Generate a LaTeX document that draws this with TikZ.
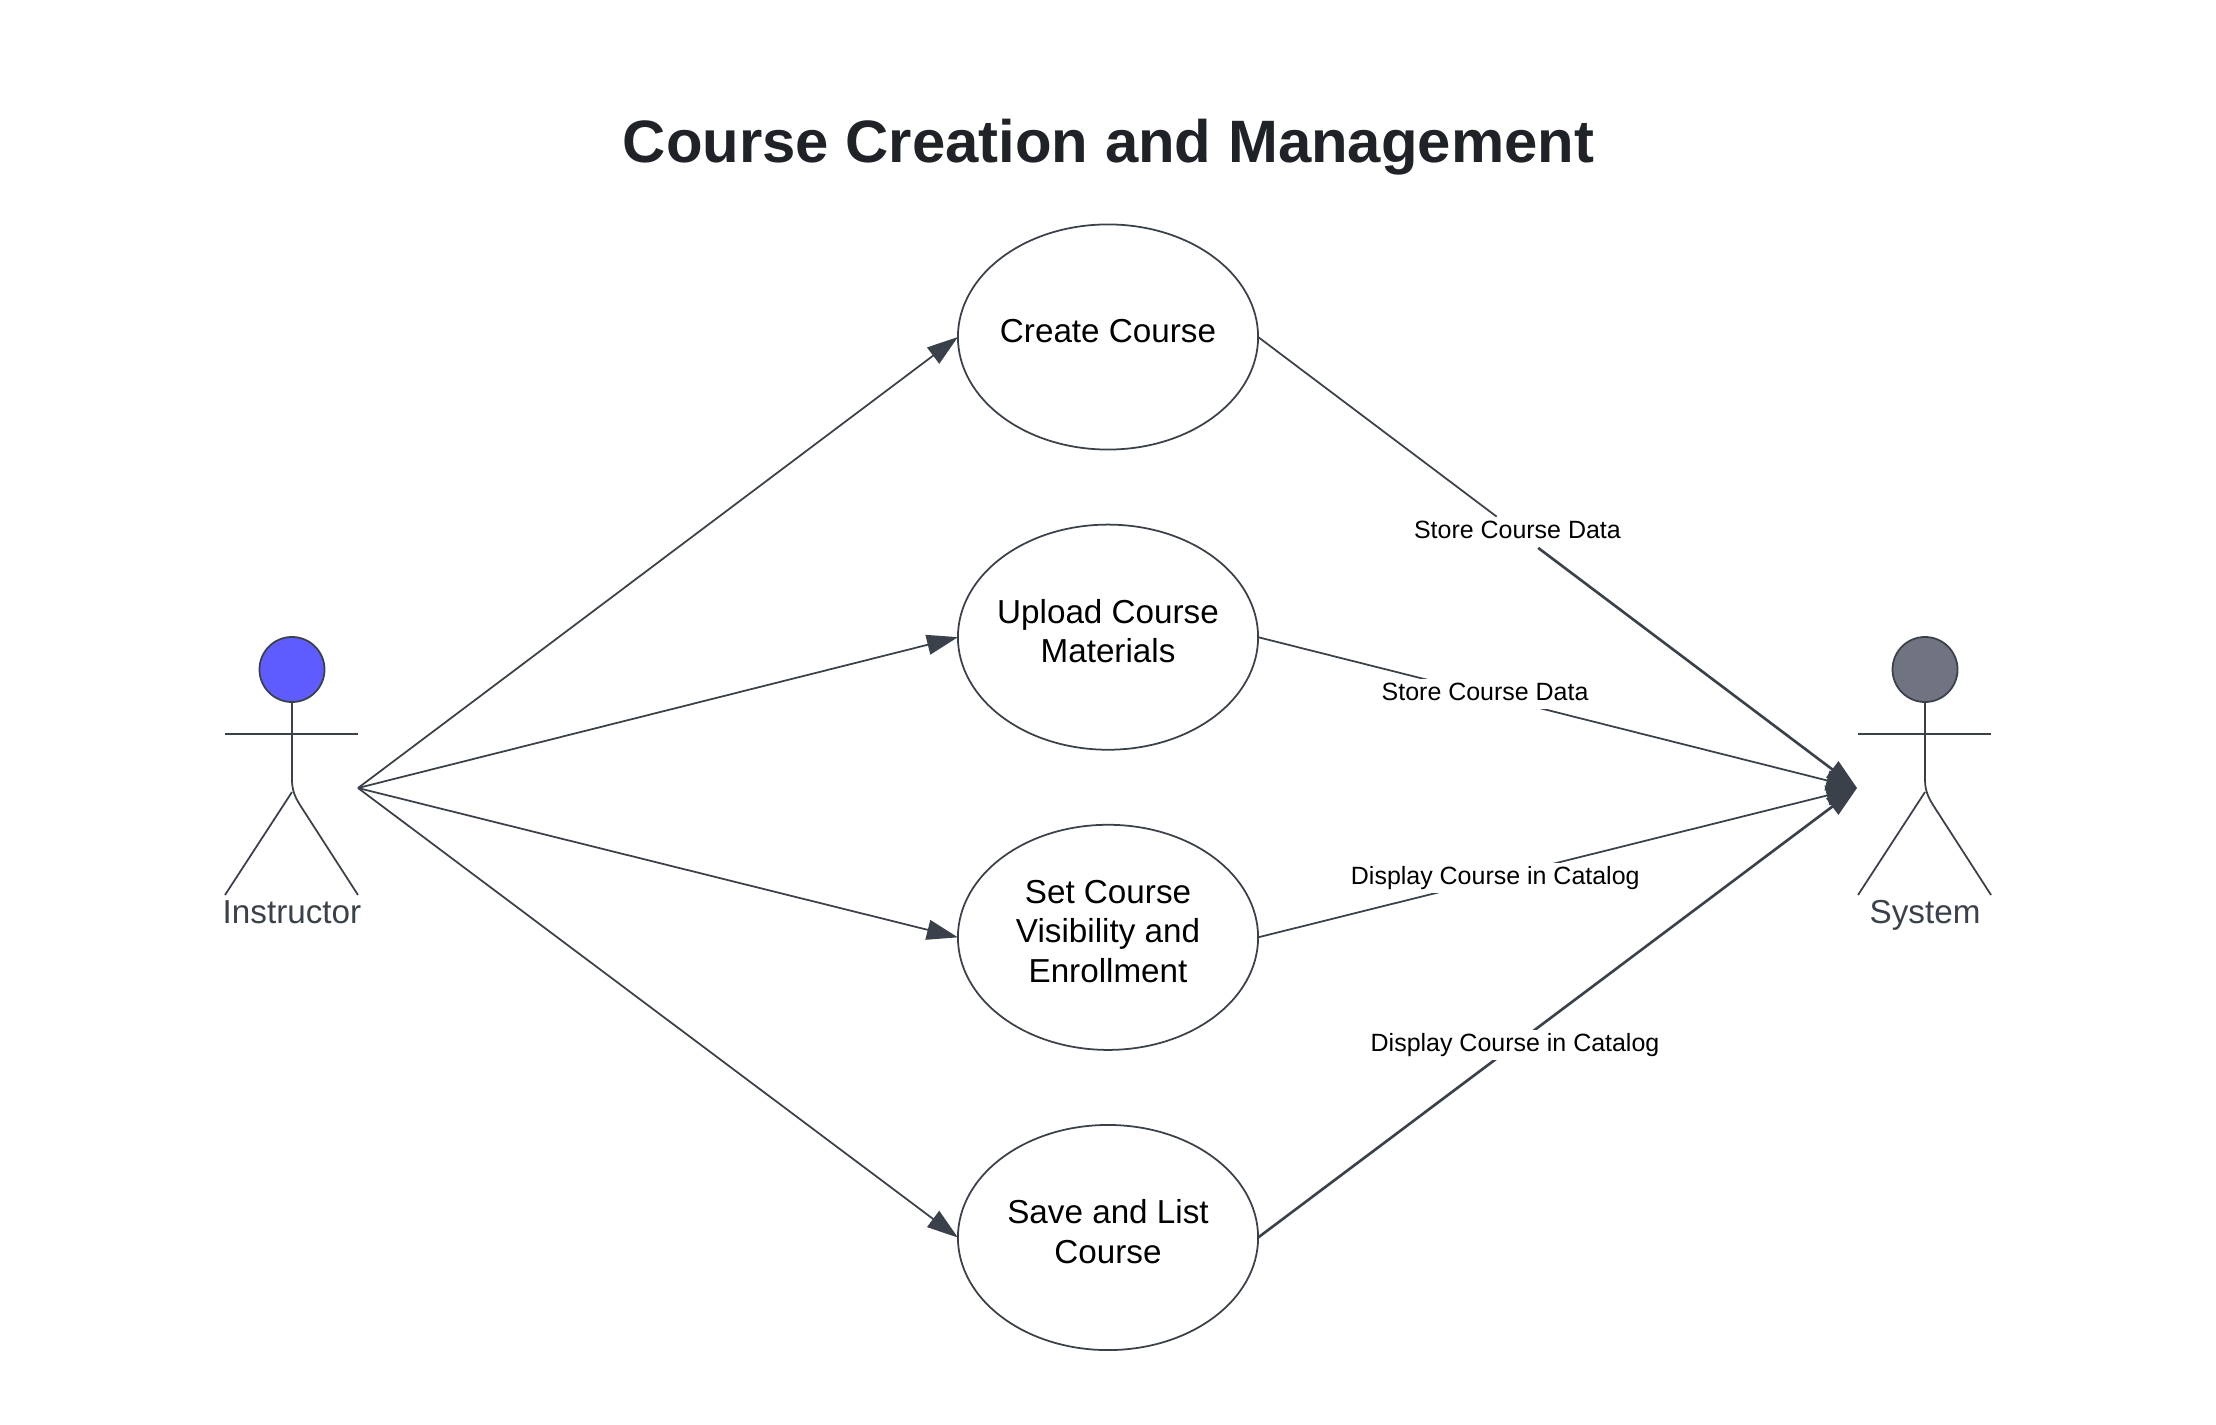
\documentclass[tikz,border=0pt]{standalone}
\usepackage{fontspec}
\setmainfont{Liberation Sans}
\usetikzlibrary{shapes.geometric, arrows.meta, positioning, calc}
\definecolor{inkline}{HTML}{3A414A}
\definecolor{titleink}{HTML}{1F2328}
\definecolor{headblue}{HTML}{5F5CFF}
\definecolor{headgray}{HTML}{6F7480}

\begin{document}
\begin{tikzpicture}[
    x=0.01cm, y=-0.01cm,
    usecase/.style={
      ellipse, draw=inkline, line width=0.5pt,
      minimum width=3.0cm, minimum height=2.25cm, inner sep=-3pt, outer sep=0pt,
      align=center, font=\fontsize{9.45}{11.2}\selectfont,
      execute at end node={\rule[-3.5pt]{0pt}{0pt}}
    },
    head/.style={circle, draw=inkline, line width=0.5pt, minimum size=0.65cm, inner sep=0pt, outer sep=0pt},
    limb/.style={draw=inkline, line width=0.5pt},
    actorname/.style={anchor=base, text=inkline, font=\fontsize{9.45}{11.2}\selectfont},
    arr/.style={-{Triangle[length=3.1mm, width=2mm]}, draw=inkline, line width=0.5pt, fill=inkline},
    plain/.style={draw=inkline, line width=0.5pt},
    heavy/.style={line width=0.75pt},
    edgelabel/.style={fill=white, inner xsep=1pt, inner ysep=0.65pt, text height=5.4pt, text depth=1.8pt,
      font=\fontsize{7.1}{8.5}\selectfont},
    node distance=0.75cm
  ]
  \useasboundingbox (0,0) rectangle (2216,1425);

  \node[font=\bfseries\fontsize{17.02}{20}\selectfont, text=titleink] (title) at (1108.5,147)
        {Course Creation and Management};

  \node[usecase] (create) at (1108,337) {Create Course};
  \node[usecase, below=of create] (upload) {Upload Course\\Materials};
  \node[usecase, below=of upload] (visible) {Set Course\\Visibility and\\Enrollment};
  \node[usecase, below=of visible] (save) {Save and List\\Course};

  % instructor
  \node[head, fill=headblue] (insthead) at (292,669.5) {};
  \coordinate (instarml) at (225,734);
  \coordinate (instarmr) at (358,734);
  \coordinate (instcrotch) at (292,792);
  \coordinate (instfootl) at (225,895);
  \coordinate (instfootr) at (358,895);
  \coordinate (instport) at (358,788);
  \node[actorname] (instname) at (292,923) {Instructor};
  \draw[limb] (instarml) -- (instarmr);
  \draw[limb] (insthead) -- (292,780) .. controls (292,790) and (295,797) .. (300,805) -- (instfootr);
  \draw[limb] (instcrotch) -- (instfootl);

  % system
  \node[head, fill=headgray] (syshead) at (1925,669.5) {};
  \coordinate (sysarml) at (1858,734);
  \coordinate (sysarmr) at (1991,734);
  \coordinate (syscrotch) at (1925,792);
  \coordinate (sysfootl) at (1858,895);
  \coordinate (sysfootr) at (1991,895);
  \coordinate (sysport) at (1857,788);
  \node[actorname] (sysname) at (1925,923) {System};
  \draw[limb] (sysarml) -- (sysarmr);
  \draw[limb] (syshead) -- (1925,780) .. controls (1925,790) and (1928,797) .. (1933,805) -- (sysfootr);
  \draw[limb] (syscrotch) -- (sysfootl);

  \draw[arr] (instport) -- (create.west);
  \draw[arr] (instport) -- (upload.west);
  \draw[arr] (instport) -- (visible.west);
  \draw[arr] (instport) -- (save.west);

  \node[edgelabel] (lbla) at ($(create.east)!0.433!(sysport)$) {Store Course Data};
  \draw[plain] (create.east) -- (lbla);
  \draw[arr, heavy] (lbla) -- (sysport);
  \draw[arr] (upload.east) -- node[edgelabel, pos=0.379] (lblb) {Store Course Data} (sysport);
  \draw[arr] (visible.east) -- node[edgelabel, pos=0.396] (lblc) {Display Course in Catalog} (sysport);
  \draw[arr, heavy] (save.east) -- node[edgelabel, pos=0.429] (lbld) {Display Course in Catalog} (sysport);
\end{tikzpicture}
\end{document}
